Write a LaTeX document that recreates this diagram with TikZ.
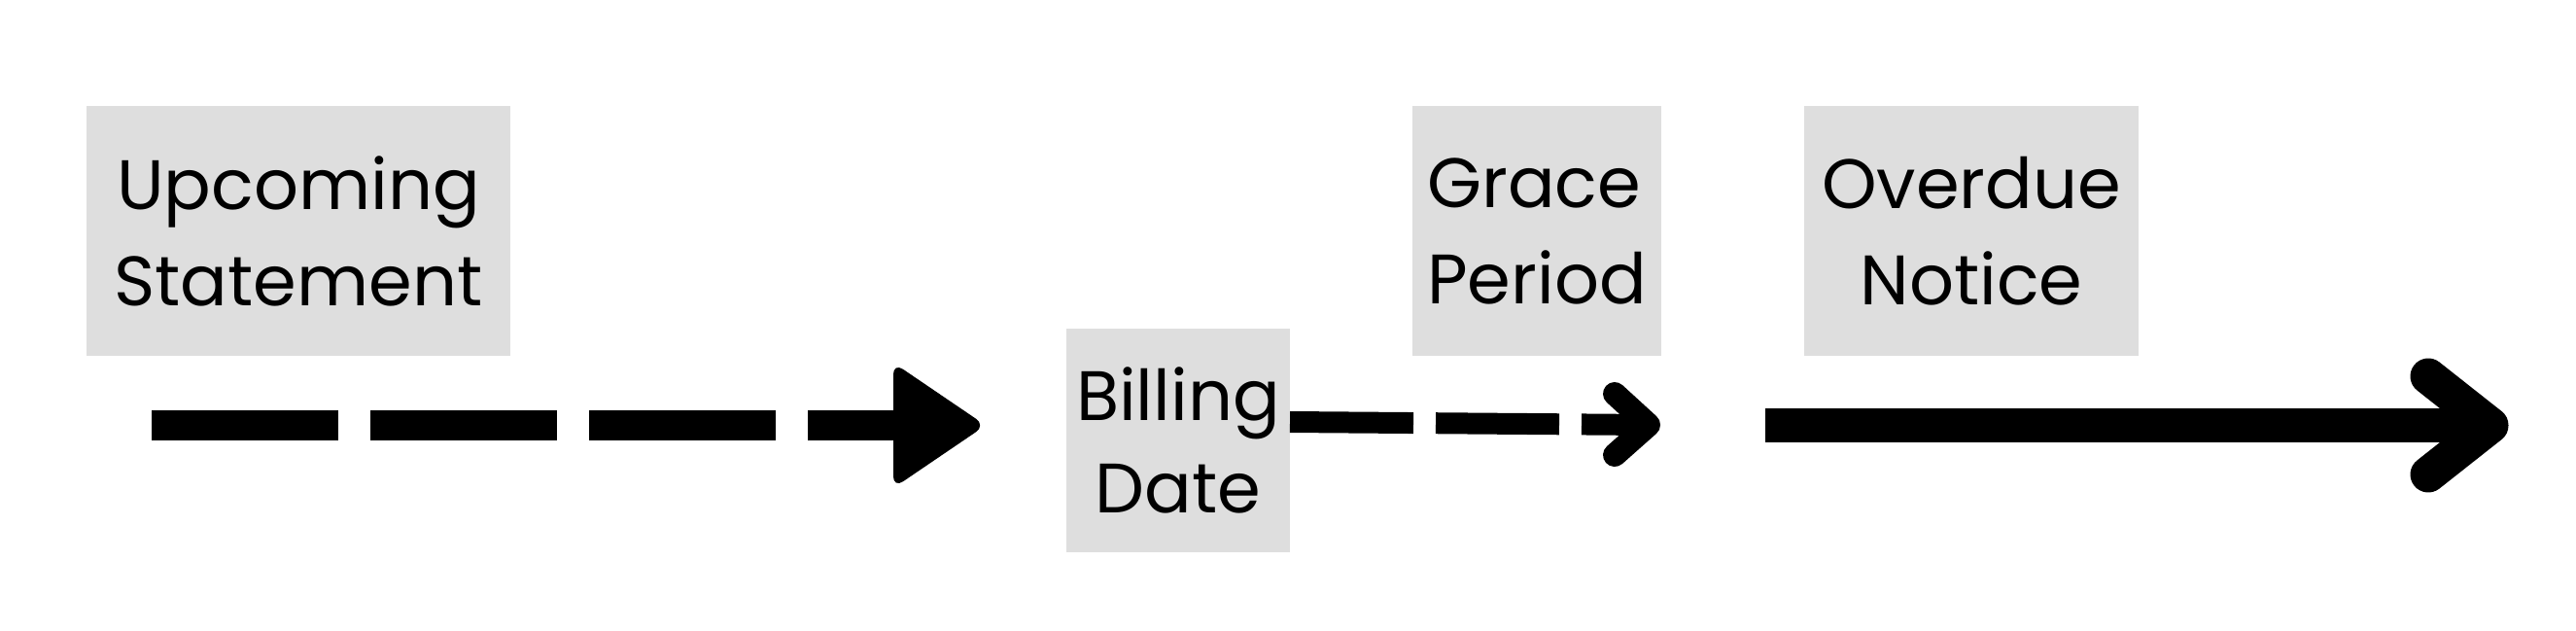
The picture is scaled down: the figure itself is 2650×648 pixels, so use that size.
\documentclass[tikz,border=0pt]{standalone}
\usepackage{fontspec}
\setmainfont{Poppins}
\definecolor{boxgray}{RGB}{222,222,222}
\begin{document}
\begin{tikzpicture}[x=1pt,y=-1pt]
\tikzset{
  lbl/.style={fill=boxgray, inner sep=0pt, align=center, font=\fontsize{72}{99}\selectfont},
  thickdash/.style={line width=31pt, dash pattern=on 192pt off 33pt},
  middash/.style={line width=22pt, dash pattern=on 127pt off 23pt},
  chev/.style={line cap=round, line join=round}
}
\useasboundingbox (0,0) rectangle (2650,648);
\fill[white] (0,0) rectangle (2650,648);
% boxes
\node[lbl, minimum width=436pt, minimum height=257pt] (up) at (307,237.5) {Upcoming\\Statement};
\node[lbl, minimum width=230pt, minimum height=230pt, font=\fontsize{72}{95}\selectfont] (bill) at (1212,453) {Billing\\Date};
\node[lbl, minimum width=256pt, minimum height=257pt, align=left] (grace) at (1581,237.5) {Grace\\Period};
\node[lbl, minimum width=344pt, minimum height=257pt] (over) at (2028,237.5) {Overdue\\Notice};
% arrow 1
\coordinate (a1s) at (156,437.5);
\coordinate (a1e) at (930,437.5);
\coordinate (h1a) at (919,373);
\coordinate (h1t) at (1014,437.5);
\coordinate (h1b) at (919,502);
\draw[thickdash] (a1s) -- (a1e);
\fill[rounded corners=12pt] (h1a) -- (h1t) -- (h1b) -- cycle;
% arrow 2
\coordinate (a2s) at (1327,434);
\coordinate (a2e) at (1694,437);
\draw[middash] (a2s) -- (a2e);
\coordinate (h2a) at (1661,405);
\coordinate (h2t) at (1696,437);
\coordinate (h2b) at (1661,468);
\draw[chev, line width=24pt] (h2a) -- (h2t) -- (h2b);
% arrow 3
\coordinate (a3s) at (1816,437.5);
\coordinate (a3e) at (2562,437.5);
\draw[line width=35pt] (a3s) -- (a3e);
\coordinate (h3a) at (2498,387);
\coordinate (h3b) at (2498,488);
\draw[chev, line width=37pt] (h3a) -- (a3e) -- (h3b);
\end{tikzpicture}
\end{document}
